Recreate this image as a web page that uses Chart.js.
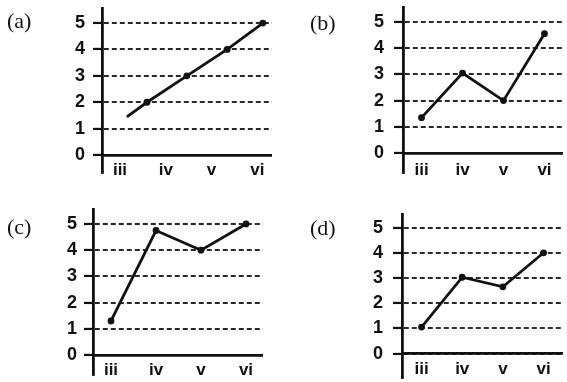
<!DOCTYPE html>
<html><head><meta charset="utf-8">
<script src="https://cdn.jsdelivr.net/npm/chart.js@4.4.1/dist/chart.umd.min.js"></script>
<style>
html,body{margin:0;padding:0;background:#fff;}
#wrap{position:relative;width:567px;height:382px;overflow:hidden;background:#fff;}
#wrap canvas{position:absolute;}
.lbl{position:absolute;font-family:"Liberation Serif","Times New Roman",serif;font-size:22px;line-height:22px;color:#111;white-space:nowrap;}
</style></head><body>
<div id="wrap">
<canvas id="ca" width="283" height="191" style="left:0px;top:0px"></canvas>
<canvas id="cb" width="284" height="191" style="left:283px;top:0px"></canvas>
<canvas id="cc" width="283" height="191" style="left:0px;top:191px"></canvas>
<canvas id="cd" width="284" height="191" style="left:283px;top:191px"></canvas>
<div class="lbl" id="la" style="left:7px;top:10px"></div>
<div class="lbl" id="lb" style="left:310px;top:12px"></div>
<div class="lbl" id="lc" style="left:7px;top:216px"></div>
<div class="lbl" id="ld" style="left:310px;top:217px"></div>
</div>
<script>
// ---- data ----
const categories = ['iii', 'iv', 'v', 'vi'];
const yTickValues = [0, 1, 2, 3, 4, 5];
const panelLabels = ['(a)', '(b)', '(c)', '(d)'];

// (a): points are not on the category positions, so x is given in category units
const aX = [0.15, 0.59, 1.46, 2.34, 3.12];
const aY = [1.45, 2, 3, 4, 5];
const aDots = [false, true, true, true, true];

const bX = [0, 1, 2, 3];
const bY = [1.35, 3.05, 2.0, 4.55];
const cX = [0, 1, 2, 3];
const cY = [1.3, 4.75, 4.0, 5.0];
const dX = [0, 1, 2, 3];
const dY = [1.05, 3.03, 2.65, 4.0];
const allDots = [true, true, true, true];

// ---- drawing ----
document.getElementById('la').textContent = panelLabels[0];
document.getElementById('lb').textContent = panelLabels[1];
document.getElementById('lc').textContent = panelLabels[2];
document.getElementById('ld').textContent = panelLabels[3];

const INK = '#111';
const SANS = '"Liberation Sans", Arial, Helvetica, sans-serif';

function makePanel(id, xs, ys, dots, L) {
  const pts = xs.map((x, i) => ({x: x, y: ys[i]}));
  new Chart(document.getElementById(id).getContext('2d'), {
    type: 'line',
    data: {
      datasets: [{
        data: pts,
        borderColor: INK,
        borderWidth: 2.8,
        pointRadius: dots.map(d => d ? 3.4 : 0),
        pointBackgroundColor: INK,
        pointBorderColor: INK,
        pointBorderWidth: 0,
        tension: 0,
        fill: false,
        xAxisID: 'x',
        yAxisID: 'y'
      }]
    },
    options: {
      responsive: false,
      animation: false,
      events: [],
      layout: {padding: {left: 0, top: L.top, right: L.w - L.right, bottom: L.h - L.bottom}},
      plugins: {legend: {display: false}, tooltip: {enabled: false}, title: {display: false}},
      scales: {
        x: {
          type: 'linear', position: 'bottom', min: L.xmin, max: L.xmax,
          grid: {display: false, drawTicks: false},
          border: {display: false},
          ticks: {
            autoSkip: false, maxRotation: 0, mirror: true, padding: L.xpad, color: INK,
            font: {family: SANS, size: 17, weight: 'bold'},
            callback: v => categories[v] !== undefined ? categories[v] : ''
          },
          afterBuildTicks: s => { s.ticks = categories.map((c, i) => ({value: i})); },
          afterFit: s => { s.height = 0; s.paddingLeft = 0; s.paddingRight = 0; }
        },
        y: {
          type: 'linear', position: 'left', min: L.ymin, max: L.ymax,
          grid: {color: '#2a2a2a', lineWidth: 1.9, drawTicks: true, tickLength: 9,
                 tickColor: INK, tickWidth: 2.2, tickBorderDash: []},
          border: {display: true, color: INK, width: 2.8, dash: [5, 3]},
          ticks: {padding: L.ypad, color: INK, font: {family: SANS, size: 18, weight: 'bold'}},
          afterBuildTicks: s => { s.ticks = yTickValues.map(v => ({value: v})); },
          afterFit: s => { s.width = L.left; s.paddingTop = 0; s.paddingBottom = 0; }
        },
        y2: {
          type: 'linear', position: 'left', min: L.ymin, max: L.ymax, display: true,
          ticks: {display: false},
          grid: {color: INK, lineWidth: 2.8, drawTicks: false},
          border: {display: false},
          afterBuildTicks: s => { s.ticks = [{value: yTickValues[0]}]; },
          afterFit: s => { s.width = 0; s.paddingTop = 0; s.paddingBottom = 0; }
        }
      }
    }
  });
}

makePanel('ca', aX, aY, aDots, {w: 283, h: 191, left: 102, right: 272, top: 8, bottom: 173,
  xmin: -0.393, xmax: 3.319, ymin: -0.68, ymax: 5.57, ypad: 8, xpad: -8});
makePanel('cb', bX, bY, allDots, {w: 284, h: 191, left: 120, right: 284, top: 7, bottom: 173,
  xmin: -0.452, xmax: 3.452, ymin: -0.76, ymax: 5.57, ypad: 10, xpad: -8});
makePanel('cc', cX, cY, allDots, {w: 283, h: 191, left: 93, right: 263, top: 18, bottom: 184,
  xmin: -0.4, xmax: 3.378, ymin: -0.76, ymax: 5.57, ypad: 7, xpad: -6});
makePanel('cd', dX, dY, allDots, {w: 284, h: 191, left: 119, right: 284, top: 23, bottom: 191,
  xmin: -0.48, xmax: 3.477, ymin: -0.97, ymax: 5.54, ypad: 10, xpad: -2});
</script>
</body></html>
